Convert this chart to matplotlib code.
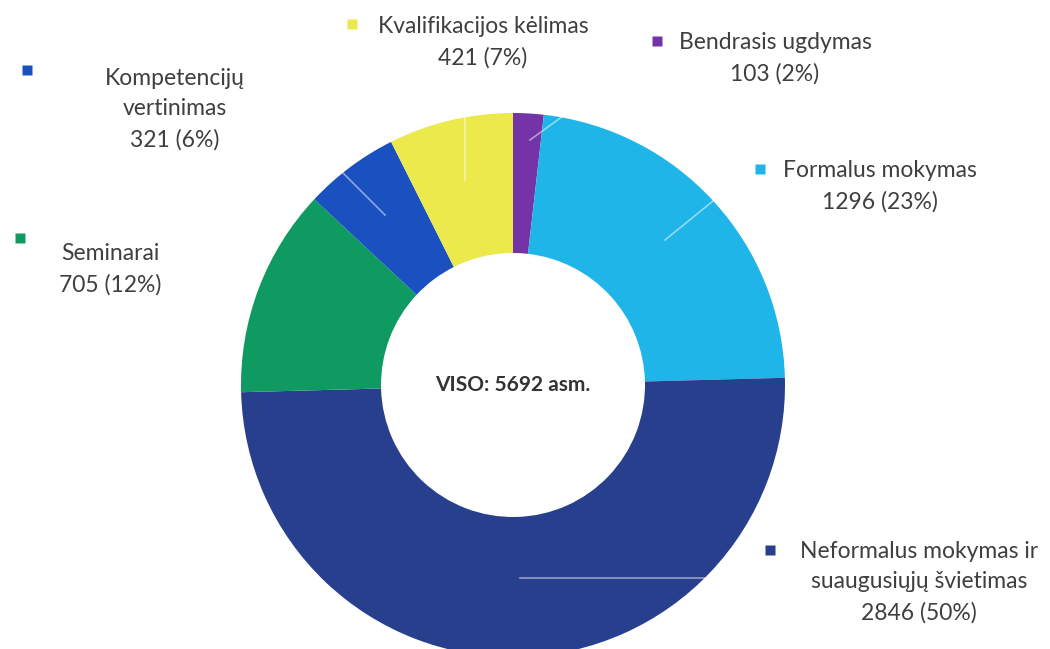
import matplotlib
matplotlib.use('Agg')
from matplotlib import pyplot as plt

# duomenys (pagal laikrodžio rodyklę nuo viršaus)
categories = ["Bendrasis ugdymas", "Formalus mokymas",
              "Neformalus mokymas ir\nsuaugusiųjų švietimas", "Seminarai",
              "Kompetencijų\nvertinimas", "Kvalifikacijos kėlimas"]
values = [103, 1296, 2846, 705, 321, 421]
colors = ["#7434a8", "#20b5e9", "#283f8d", "#0f9a62", "#1a50c0", "#ece94c"]

total = sum(values)

plt.rcParams['font.family'] = ['Lato', 'DejaVu Sans']
fig = plt.figure(figsize=(10.5, 6.49), dpi=100)
ax = fig.add_axes([0, 0, 1, 1])

H = 649
cx, cy = 513, H - 385
ax.pie(values, colors=colors, startangle=90, counterclock=False,
       radius=272, center=(cx, cy), frame=True,
       wedgeprops=dict(width=140, linewidth=0))
ax.set_xlim(0, 1050)
ax.set_ylim(0, 649)
ax.set_aspect('equal')
ax.axis('off')

# blyškios vedamosios linijos
leaders = [((640, 60), (530, 140)), ((745, 175), (665, 240)),
           ((760, 578), (520, 578)), ((270, 100), (385, 215)),
           ((465, 75), (465, 180))]
for (x0, y0), (x1, y1) in leaders:
    ax.plot([x0, x1], [H - y0, H - y1], color="white", lw=1.2, alpha=0.5)

# etikečių vietos: (teksto centras x, pirmos eilutės y, žymeklio x, žymeklio y)
label_pos = [(775, 41, 657, 41), (880, 169, 760, 169), (919, 550, 770, 550),
             (110, 252, 20, 238), (175, 77, 27, 70), (483, 25, 352, 24)]

txt = "#3f3f3f"
for cat, v, c, (tx, ty, mx, my) in zip(categories, values, colors, label_pos):
    pct = round(v / total * 100)
    s = f"{cat}\n{v} ({pct}%)"
    ax.text(tx, H - ty + 9, s, ha='center', va='top', fontsize=16.5,
            color=txt, linespacing=1.55)
    ax.plot(mx, H - my, marker='s', markersize=7, color=c, mec='none')

ax.text(cx, cy, f"VISO: {total} asm.", ha='center', va='center',
        fontsize=15, fontweight='bold', color="#333333")

fig.savefig("out.png", dpi=100)
plt.close()
